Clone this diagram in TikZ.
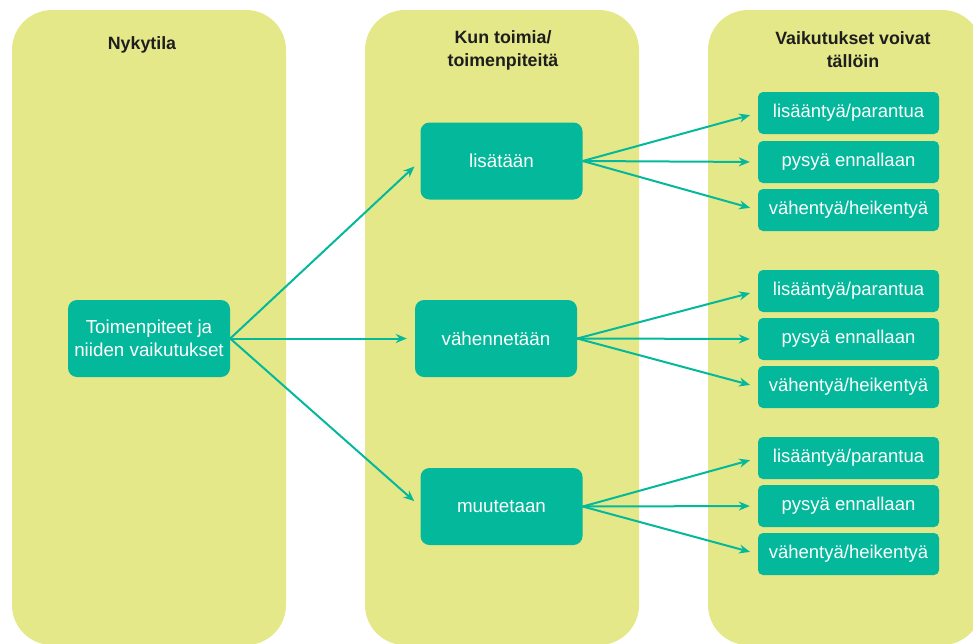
\documentclass[tikz,border=0pt]{standalone}
\usepackage{fontspec}
\setmainfont{Liberation Sans}
\usetikzlibrary{arrows.meta}
\definecolor{colbg}{HTML}{E5E888}
\definecolor{boxgreen}{HTML}{04B89B}
\definecolor{headtext}{HTML}{1E1E1E}
\tikzset{lane/.style={fill=colbg, rounded corners=40pt},
  head/.style={text=headtext, font=\fontsize{17.8}{23}\selectfont\bfseries, align=center},
  bigbox/.style={fill=boxgreen, text=white, rounded corners=9pt, minimum width=162pt,
    minimum height=77pt, align=center, font=\fontsize{18.8}{23}\selectfont},
  smallbox/.style={fill=boxgreen, text=white, rounded corners=5pt, minimum width=181pt,
    minimum height=42pt, font=\fontsize{18.5}{22}\selectfont},
  link/.style={draw=boxgreen, line width=2pt, shorten >=8pt,
    -{Stealth[length=11pt,width=9pt]}}}

\begin{document}
\begin{tikzpicture}[x=1pt,y=-1pt]
  \useasboundingbox (0,0) rectangle (973,643);
  \clip (0,0) rectangle (973,643);
  % columns
  \fill[lane] ( 12,10) rectangle (286,645);
  \fill[lane] (365,10) rectangle (639,645);
  \fill[lane] (708,10) rectangle (982,645);
  % headings
  \node[head] (h1) at (142,45) {Nykytila};
  \node[head] (h2) at (503,50) {Kun toimia/\\toimenpiteitä};
  \node[head] (h3) at (853,50) {Vaikutukset voivat\\tällöin};
  % boxes
  \node[bigbox] (now) at (149,338.5) {Toimenpiteet ja\\niiden vaikutukset};
  \node[bigbox] (add) at (501.5,161) {lisätään};
  \node[bigbox] (cut) at (496,338.5) {vähennetään};
  \node[bigbox] (chg) at (501.5,506.5) {muutetaan};
  \node[smallbox] (a1) at (848.5,113) {lisääntyä/parantua};
  \node[smallbox] (a2) at (848.5,162) {pysyä ennallaan};
  \node[smallbox] (a3) at (848.5,210) {vähentyä/heikentyä};
  \node[smallbox] (b1) at (848.5,291) {lisääntyä/parantua};
  \node[smallbox] (b2) at (848.5,339) {pysyä ennallaan};
  \node[smallbox] (b3) at (848.5,387) {vähentyä/heikentyä};
  \node[smallbox] (c1) at (848.5,458) {lisääntyä/parantua};
  \node[smallbox] (c2) at (848.5,506) {pysyä ennallaan};
  \node[smallbox] (c3) at (848.5,554) {vähentyä/heikentyä};
  % arrows
  \draw[link] (now.east) -- (add.west);
  \draw[link] (now.east) -- (cut.west);
  \draw[link] (now.east) -- (chg.west);
  \draw[link] (add.east) -- (a1.west);
  \draw[link] (add.east) -- (a2.west);
  \draw[link] (add.east) -- (a3.west);
  \draw[link] (cut.east) -- (b1.west);
  \draw[link] (cut.east) -- (b2.west);
  \draw[link] (cut.east) -- (b3.west);
  \draw[link] (chg.east) -- (c1.west);
  \draw[link] (chg.east) -- (c2.west);
  \draw[link] (chg.east) -- (c3.west);
\end{tikzpicture}
\end{document}
